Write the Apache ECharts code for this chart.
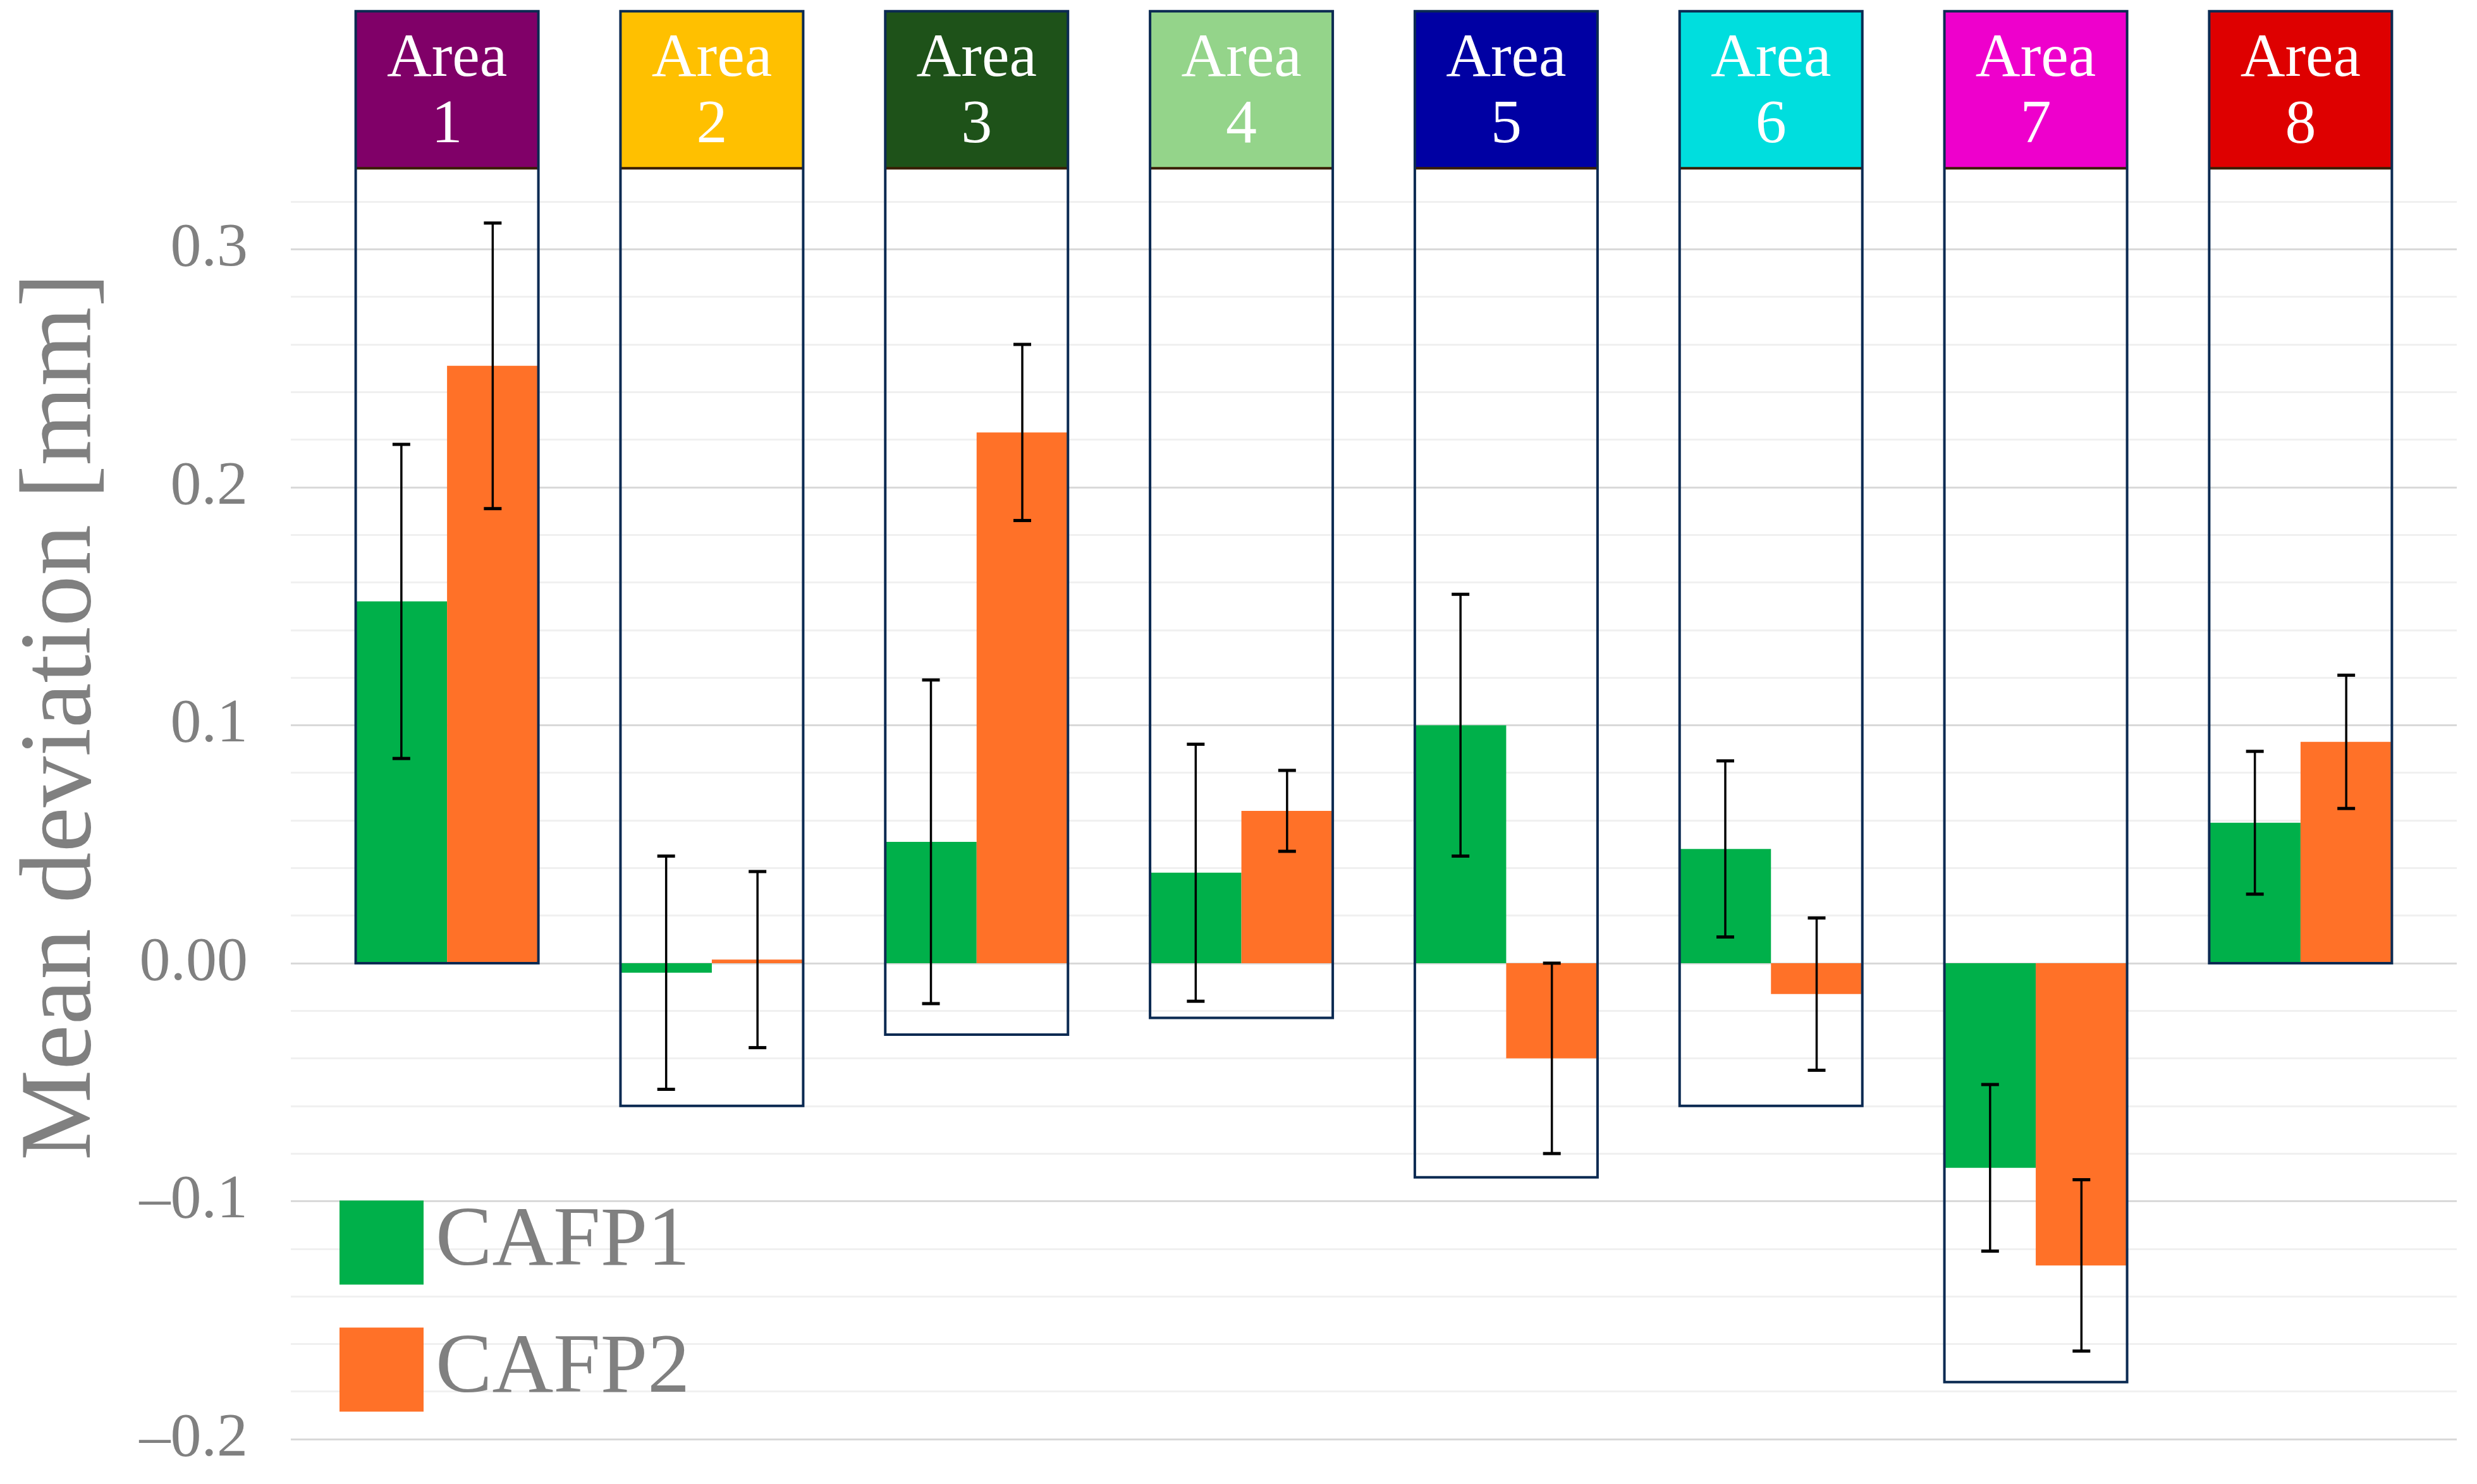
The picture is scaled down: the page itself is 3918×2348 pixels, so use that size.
<!DOCTYPE html>
<html>
<head>
<meta charset="utf-8">
<script src="https://cdn.jsdelivr.net/npm/echarts@6/dist/echarts.min.js"></script>
<style>
html,body{margin:0;padding:0;background:#fff;}
#chart{width:3918px;height:2348px;}
</style>
</head>
<body>
<div id="chart"></div>
<script>
// ---- data ----
const categories = ['Area 1', 'Area 2', 'Area 3', 'Area 4', 'Area 5', 'Area 6', 'Area 7', 'Area 8'];
const seriesNames = ['CAFP1', 'CAFP2'];
const cafp1 = [0.152, -0.004, 0.051, 0.038, 0.100, 0.048, -0.086, 0.059];
const cafp1Err = [0.066, 0.049, 0.068, 0.054, 0.055, 0.037, 0.035, 0.030];
const cafp2 = [0.251, 0.0015, 0.223, 0.064, -0.040, -0.013, -0.127, 0.093];
const cafp2Err = [0.060, 0.037, 0.037, 0.017, 0.040, 0.032, 0.036, 0.028];
const boxBottom = [0, -0.06, -0.03, -0.023, -0.09, -0.06, -0.176, 0];
const headerColors = ['#800068', '#FFC000', '#1E5219', '#94D48A', '#0000A3', '#00DEDE', '#EE00CC', '#DE0000'];
const yTickValues = [-0.2, -0.1, 0, 0.1, 0.2, 0.3];
const yTickLabels = ['\u20130.2', '\u20130.1', '0.00', '0.1', '0.2', '0.3'];

// ---- layout constants ----
const HALF = 0.345;          // width of one bar in x units
const HEADER_TOP = 0.40;
const HEADER_BOTTOM = 0.334;
const seriesColors = ['#00B04A', '#FF7128'];
const SERIF = '"Liberation Serif", "DejaVu Serif", serif';

const chart = echarts.init(document.getElementById('chart'), null, {renderer: 'canvas'});

function barRenderer(sIdx) {
  return function (params, api) {
    const i = api.value(0), v = api.value(1), e = api.value(2);
    const side = sIdx === 0 ? -1 : 1;
    const xl = Math.min(i, i + side * HALF), xr = Math.max(i, i + side * HALF);
    const p0 = api.coord([xl, Math.max(v, 0)]);
    const p1 = api.coord([xr, Math.min(v, 0)]);
    const xc = api.coord([i + side * HALF / 2, 0])[0];
    const yt = api.coord([i, v + e])[1];
    const yb = api.coord([i, v - e])[1];
    const cap = 14;
    return {
      type: 'group',
      children: [
        {type: 'rect', shape: {x: p0[0], y: p0[1], width: p1[0] - p0[0], height: Math.max(p1[1] - p0[1], 3)},
          style: {fill: seriesColors[sIdx]}},
        {type: 'line', shape: {x1: xc, y1: yt, x2: xc, y2: yb}, style: {stroke: '#000', lineWidth: 3.5}},
        {type: 'line', shape: {x1: xc - cap, y1: yt, x2: xc + cap, y2: yt}, style: {stroke: '#000', lineWidth: 5}},
        {type: 'line', shape: {x1: xc - cap, y1: yb, x2: xc + cap, y2: yb}, style: {stroke: '#000', lineWidth: 5}}
      ]
    };
  };
}

function boxRenderer(params, api) {
  const i = api.value(0), b = api.value(1);
  const tl = api.coord([i - HALF, HEADER_TOP]);
  const hb = api.coord([i + HALF, HEADER_BOTTOM]);
  const br = api.coord([i + HALF, b]);
  const tc = api.coord([i, (HEADER_TOP + HEADER_BOTTOM) / 2]);
  return {
    type: 'group',
    children: [
      {type: 'rect', shape: {x: tl[0], y: tl[1], width: hb[0] - tl[0], height: hb[1] - tl[1]},
        style: {fill: headerColors[params.dataIndex]}},
      {type: 'line', shape: {x1: tl[0], y1: hb[1], x2: hb[0], y2: hb[1]},
        style: {stroke: '#3a1e00', lineWidth: 4}},
      {type: 'rect', shape: {x: tl[0], y: tl[1], width: br[0] - tl[0], height: br[1] - tl[1]},
        style: {fill: 'none', stroke: '#0B2A52', lineWidth: 4}},
      {type: 'text', style: {
        text: categories[params.dataIndex].replace(' ', '\n'),
        x: tc[0], y: tc[1] + 5, align: 'center', verticalAlign: 'middle',
        fill: '#ffffff', fontSize: 98, fontFamily: SERIF, lineHeight: 105
      }}
    ]
  };
}

const option = {
  backgroundColor: '#ffffff',
  animation: false,
  grid: {left: 460, right: 32, top: 319, bottom: 71, containLabel: false},
  xAxis: {type: 'value', min: -0.59, max: 7.59, show: false},
  yAxis: {
    type: 'value', min: -0.2, max: 0.32, interval: 0.02,
    axisLine: {show: false}, axisTick: {show: false},
    axisLabel: {
      margin: 68, color: '#808080', fontSize: 98, fontFamily: SERIF,
      formatter: function (v) {
        for (let k = 0; k < yTickValues.length; k++) {
          if (Math.abs(v - yTickValues[k]) < 1e-6) return yTickLabels[k];
        }
        return '';
      }
    },
    splitLine: {lineStyle: {color: ['#D9D9D9', '#F0F0F0', '#F0F0F0', '#F0F0F0', '#F0F0F0'], width: 3}}
  },
  legend: {
    data: seriesNames, orient: 'vertical', left: 532, top: 1894,
    itemWidth: 133, itemHeight: 133, itemGap: 67, icon: 'rect',
    textStyle: {fontSize: 134, color: '#808080', fontFamily: SERIF, padding: [0, 0, 0, 14]}
  },
  graphic: [{
    type: 'text', x: 100, y: 1134, rotation: Math.PI / 2,
    style: {text: 'Mean deviation [mm]', fontSize: 161, fontFamily: SERIF, fill: '#808080',
      align: 'center', verticalAlign: 'middle'}
  }],
  series: [
    {name: seriesNames[0], type: 'custom', clip: false, z: 2, itemStyle: {color: seriesColors[0]},
      renderItem: barRenderer(0), data: cafp1.map((v, i) => [i, v, cafp1Err[i]])},
    {name: seriesNames[1], type: 'custom', clip: false, z: 2, itemStyle: {color: seriesColors[1]},
      renderItem: barRenderer(1), data: cafp2.map((v, i) => [i, v, cafp2Err[i]])},
    {name: 'boxes', type: 'custom', clip: false, z: 3, silent: true,
      renderItem: boxRenderer, data: boxBottom.map((b, i) => [i, b])}
  ]
};
chart.setOption(option);
</script>
</body>
</html>
